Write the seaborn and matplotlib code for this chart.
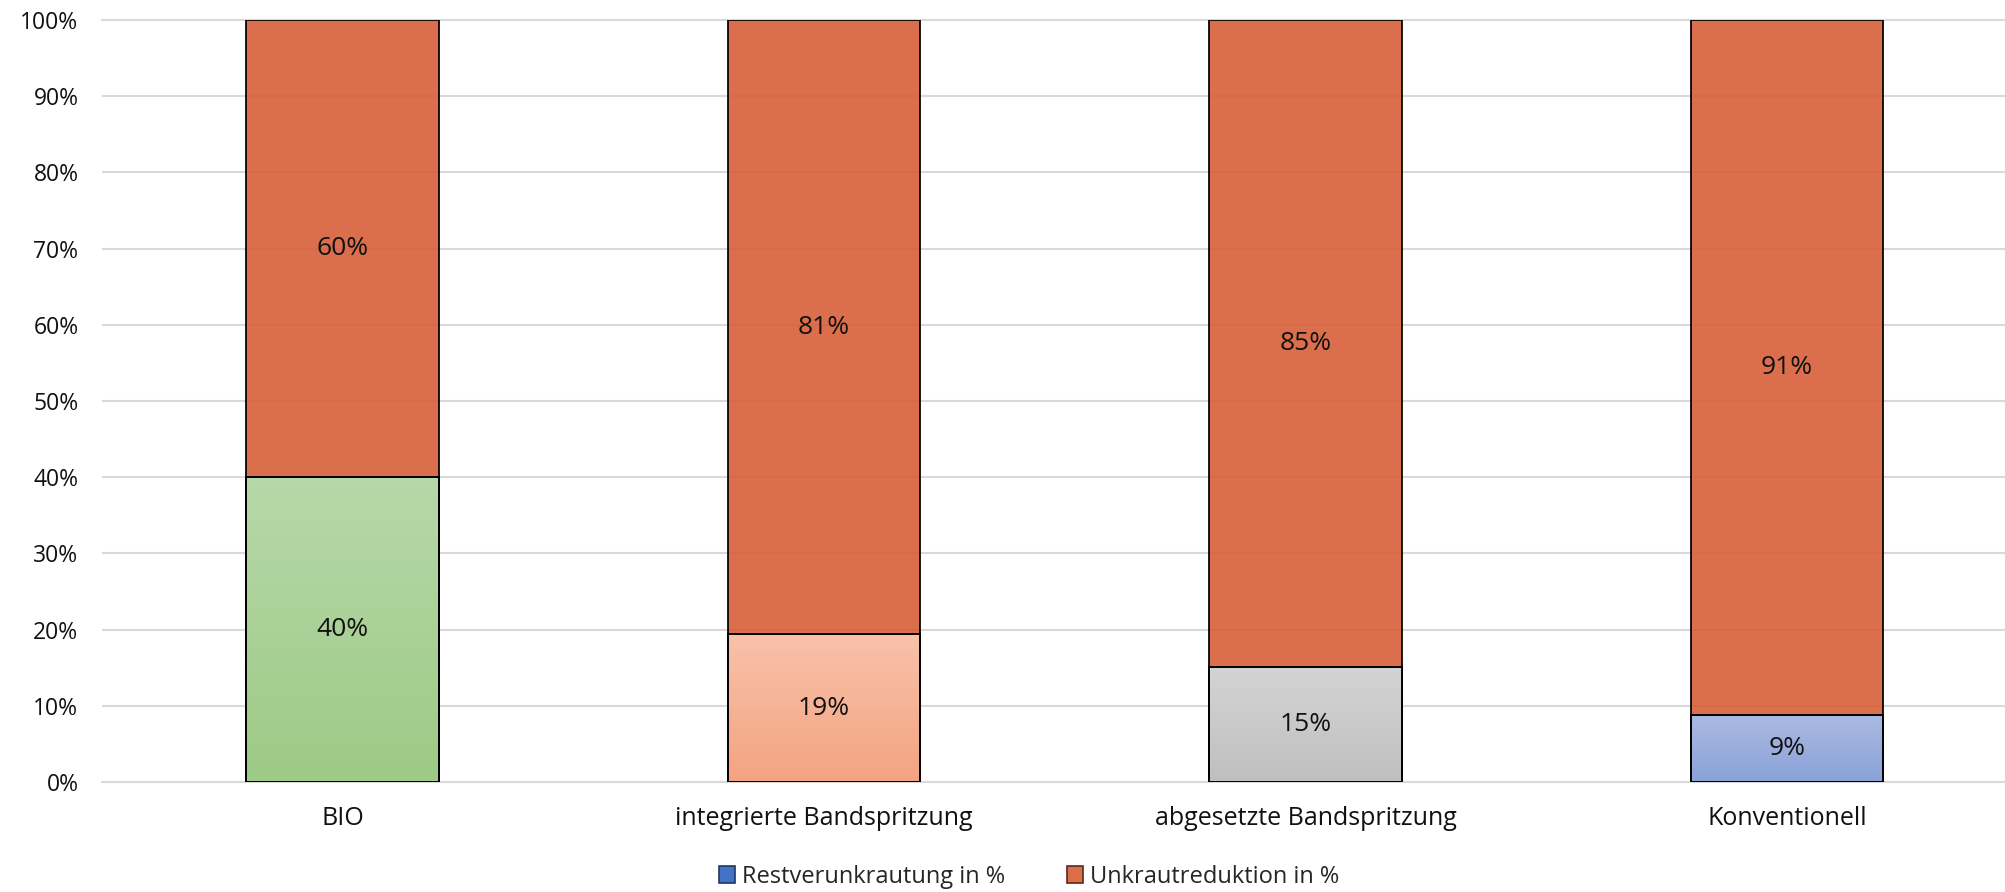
import numpy as np
import pandas as pd
import matplotlib
matplotlib.use("Agg")
import matplotlib.pyplot as plt
from matplotlib.colors import LinearSegmentedColormap
from matplotlib.patches import Patch
import seaborn as sns

# data
categories = ["BIO", "integrierte Bandspritzung", "abgesetzte Bandspritzung", "Konventionell"]
rest_pct = [40.0, 19.4, 15.1, 8.8]        # Restverunkrautung in %
reduktion_pct = [60.0, 80.6, 84.9, 91.2]  # Unkrautreduktion in %
y_ticks = [0, 10, 20, 30, 40, 50, 60, 70, 80, 90, 100]
legend_labels = ["Restverunkrautung in %", "Unkrautreduktion in %"]

df = pd.DataFrame({"kategorie": categories, "rest": rest_pct, "reduktion": reduktion_pct})
df["gesamt"] = df["rest"] + df["reduktion"]

# gradient colours (bottom, top) for the lower segments
grad_colors = [("#9DCA86", "#B7D8A9"), ("#F4A381", "#F8C2AA"),
               ("#BFBFBF", "#D4D4D4"), ("#8AA2D8", "#ABBAE2")]
orange = "#D85E38"

sns.set_style("white")
plt.rcParams["font.family"] = ["Open Sans", "DejaVu Sans"]

fig = plt.figure(figsize=(20.06, 8.92), dpi=100)
ax = fig.add_axes([102 / 2006, 1 - 782 / 892, 1 - 102 / 2006, 762 / 892])

# full stacks (orange), then the lower segments on top
sns.barplot(data=df, x="kategorie", y="gesamt", color=orange, width=0.4,
            edgecolor="black", linewidth=1.4, alpha=0.9, saturation=1, ax=ax, zorder=2)
n_top = len(ax.patches)
sns.barplot(data=df, x="kategorie", y="rest", color="white", width=0.4,
            edgecolor="black", linewidth=1.4, saturation=1, ax=ax, zorder=3)
low_patches = ax.patches[n_top:]

xlim = (-0.5, 3.455)
grad = np.linspace(0, 1, 256).reshape(-1, 1)
for p, (c0, c1) in zip(low_patches, grad_colors):
    x0, y0, w, h = p.get_x(), p.get_y(), p.get_width(), p.get_height()
    cmap = LinearSegmentedColormap.from_list("g", [c0, c1])
    im = ax.imshow(grad, extent=[x0, x0 + w, y0, y0 + h], origin="lower",
                   aspect="auto", cmap=cmap, zorder=3.5)
    im.set_clip_path(p)
    p.set_facecolor("none")
    p.set_zorder(4)

# value labels
for i, (r, u) in enumerate(zip(rest_pct, reduktion_pct)):
    ax.text(i, r / 2, f"{r:.0f}%", ha="center", va="center", fontsize=19, color="#111111", zorder=5)
    ax.text(i, r + u / 2, f"{u:.0f}%", ha="center", va="center", fontsize=19, color="#111111", zorder=5)

ax.set_xlim(*xlim)
ax.set_ylim(0, 100)
ax.set_yticks(y_ticks)
ax.set_yticklabels([f"{t}%" for t in y_ticks])
ax.set_xlabel("")
ax.set_ylabel("")
ax.yaxis.grid(True, color="#D9D9D9", linewidth=1.5)
ax.set_axisbelow(True)
for s in ["left", "right"]:
    ax.spines[s].set_visible(False)
for s in ["top", "bottom"]:
    ax.spines[s].set_color("#D9D9D9")
    ax.spines[s].set_linewidth(1.5)
    ax.spines[s].set_zorder(1)
ax.tick_params(axis="both", length=0, colors="#111111")
ax.tick_params(axis="y", pad=17, labelsize=16.5)
ax.tick_params(axis="x", pad=17, labelsize=18)

handles = [Patch(facecolor="#4472C4", edgecolor="#1F3864", linewidth=1.2),
           Patch(facecolor="#DD6E4C", edgecolor="#5A2A1A", linewidth=1.2)]
fig.legend(handles, legend_labels, loc="center", bbox_to_anchor=(0.513, 0.017), ncol=2,
           frameon=False, fontsize=17, handlelength=0.7, handleheight=0.7,
           handletextpad=0.3, columnspacing=2.6)

fig.savefig("out.png", dpi=100)
